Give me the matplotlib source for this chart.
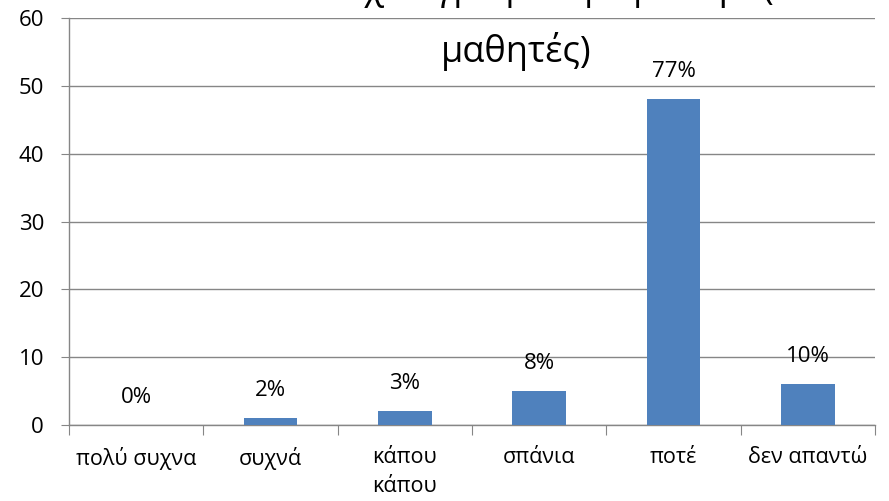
import matplotlib
matplotlib.use("Agg")
import matplotlib.pyplot as plt
import numpy as np

# data
categories = ["πολύ συχνα", "συχνά", "κάπου\nκάπου", "σπάνια", "ποτέ", "δεν απαντώ"]
counts = [0, 1, 2, 5, 48, 6]
pct_labels = ["0%", "2%", "3%", "8%", "77%", "10%"]
yticks = [0, 10, 20, 30, 40, 50, 60]
title_line1 = "Πόσο συχνά γράφετε με μολύβι (σε"
title_line2 = "μαθητές)"

plt.rcParams['font.family'] = ['Open Sans', 'DejaVu Sans']
grey = "#868686"
bar_col = "#4f81bd"

fig = plt.figure(figsize=(8.89, 5.01), dpi=100)
ax = fig.add_axes([69/889, 1 - 425/501, (875-69)/889, (425-18)/501])

x = np.arange(len(categories))
ax.bar(x, counts, width=0.4, color=bar_col, zorder=3)

for xi, c, lab in zip(x, counts, pct_labels):
    ax.annotate(lab, (xi, c), xytext=(0, 20), textcoords="offset points",
                ha="center", va="center", fontsize=16, color="black")

ax.set_xlim(-0.5, len(categories) - 0.5)
ax.set_ylim(0, 60)
ax.set_yticks(yticks)
ax.yaxis.grid(True, color=grey, linewidth=1, zorder=0)
ax.tick_params(axis="y", length=6, color=grey, labelsize=16, pad=12)

# category labels between boundary ticks
ax.set_xticks(np.arange(len(categories) + 1) - 0.5)
ax.set_xticklabels([])
ax.tick_params(axis="x", length=7, color=grey, direction="out")
ax.set_xticks(x, minor=True)
ax.set_xticklabels(categories, minor=True, fontsize=15.5, linespacing=1.5)
ax.tick_params(axis="x", which="minor", length=0, pad=16)

for s in ["top", "right"]:
    ax.spines[s].set_visible(False)
for s in ["left", "bottom"]:
    ax.spines[s].set_color(grey)
    ax.spines[s].set_linewidth(1)

# first title line is clipped by the top edge, only descenders show
fig.text(516/889, 1 + 1/501, title_line1, ha="center", va="baseline", fontsize=26)
fig.text(516/889, 1 - 62/501, title_line2, ha="center", va="baseline", fontsize=26)

fig.savefig("out.png", dpi=100)
